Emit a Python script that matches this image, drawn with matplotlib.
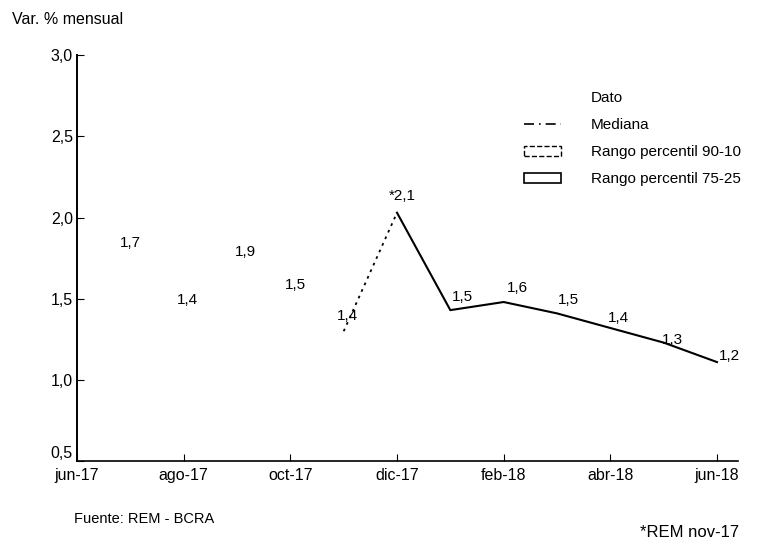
import matplotlib
matplotlib.use("Agg")
import matplotlib.pyplot as plt
from matplotlib.lines import Line2D
from matplotlib.patches import Patch

plt.rcParams['font.family'] = ['Liberation Sans', 'DejaVu Sans']

# Months from jun-17 to jun-18
months = ["jun-17", "jul-17", "ago-17", "sep-17", "oct-17", "nov-17", "dic-17",
          "ene-18", "feb-18", "mar-18", "abr-18", "may-18", "jun-18"]
tick_labels = ["jun-17", "ago-17", "oct-17", "dic-17", "feb-18", "abr-18", "jun-18"]

# Monthly inflation values shown as labels (jul-17 .. jun-18)
dato_values = [1.7, 1.4, 1.9, 1.5, 1.4, 2.1, 1.5, 1.6, 1.5, 1.4, 1.3, 1.2]
dato_text = ["1,7", "1,4", "1,9", "1,5", "1,4", "*2,1", "1,5", "1,6", "1,5", "1,4", "1,3", "1,2"]

# REM median line (nov-17 .. jun-18)
median_values = [1.30, 2.03, 1.43, 1.48, 1.41, 1.32, 1.23, 1.11]

# label offsets in points (style only)
label_offsets = [(0, 17), (3, 11), (6, -13), (4, 10), (3, -1), (4, 4),
                 (9, 1), (10, -4), (8, -1), (6, -2), (6, -6), (9, -6)]

x_all = list(range(len(months)))
x_dato = x_all[1:]
x_med = x_all[5:]

fig = plt.figure(figsize=(7.78, 5.47), dpi=100)
ax = fig.add_axes([0.099, 0.157, 0.85, 0.742])

# dotted link nov-17 -> dic-17, solid afterwards
ax.plot(x_med[:2], median_values[:2], color="black", lw=1.3, ls=(0, (1.5, 2.5)))
ax.plot(x_med[1:], median_values[1:], color="black", lw=1.5)

# value labels
for xi, v, t, off in zip(x_dato, dato_values, dato_text, label_offsets):
    ax.annotate(t, (xi, v), xytext=off, textcoords="offset points",
                ha="center", va="center", fontsize=11)

ax.set_xlim(0, 12.4)
ax.set_ylim(0.5, 3.0)
ax.set_yticks([0.5, 1.0, 1.5, 2.0, 2.5, 3.0])
ax.set_yticklabels(["0,5", "1,0", "1,5", "2,0", "2,5", "3,0"])
ax.set_xticks(x_all[::2])
ax.set_xticklabels(tick_labels)
ax.tick_params(axis="both", direction="in", length=5, labelsize=11.5, pad=3)
ax.tick_params(axis="x", pad=5)
# lowest y label sits just above the x labels, as in the original
ax.get_yticklabels()[0].set_verticalalignment("bottom")

for s in ["top", "right"]:
    ax.spines[s].set_visible(False)
ax.spines["left"].set_linewidth(1.4)
ax.spines["bottom"].set_linewidth(1.2)

handles = [
    Line2D([], [], color="none"),
    Line2D([], [], color="black", lw=1.2, ls=(0, (6, 3, 1, 3))),
    Patch(facecolor="white", edgecolor="black", ls="--", lw=1.0),
    Patch(facecolor="white", edgecolor="black", lw=1.2),
]
labels = ["Dato", "Mediana", "Rango percentil 90-10", "Rango percentil 75-25"]
ax.legend(handles, labels, loc="upper right", bbox_to_anchor=(1.025, 0.945),
          frameon=False, fontsize=11, labelspacing=0.85, handlelength=2.4,
          handletextpad=2.0)

fig.text(0.015, 0.965, "Var. % mensual", fontsize=11.5, va="center")
fig.text(0.095, 0.052, "Fuente: REM - BCRA", fontsize=10.5, va="center")
fig.text(0.822, 0.027, "*REM nov-17", fontsize=12, va="center")

fig.savefig("out.png", dpi=100)
